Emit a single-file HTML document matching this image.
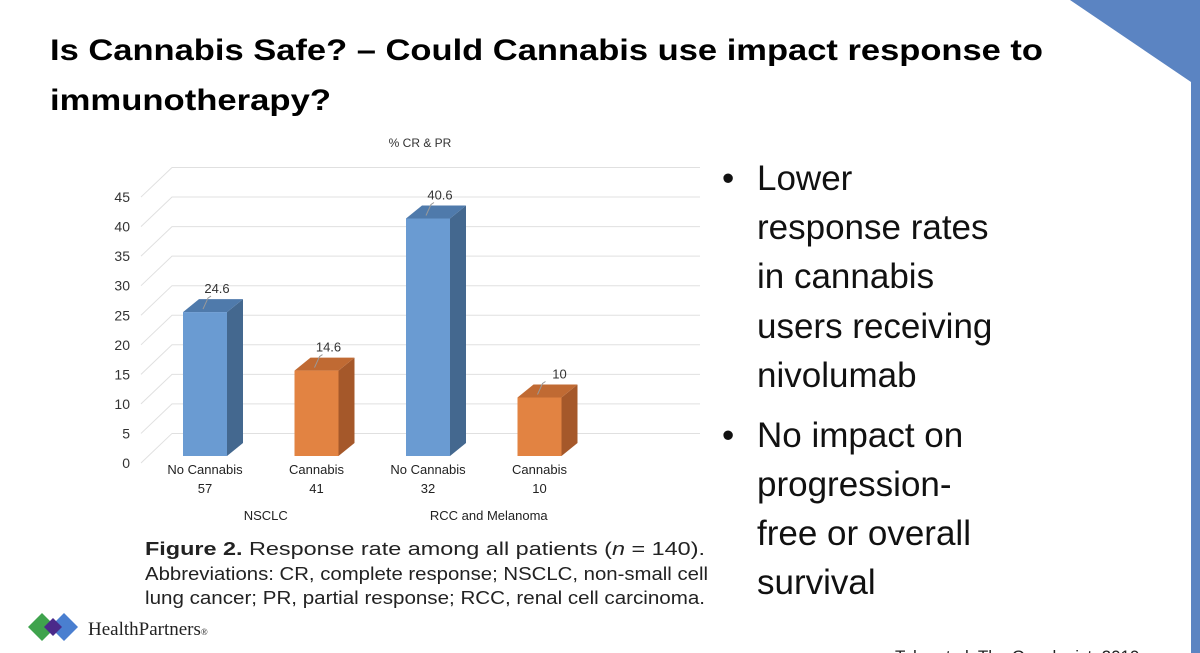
<!DOCTYPE html>
<html><head><meta charset="utf-8"><style>
html,body{margin:0;padding:0;background:#fff;}
svg{display:block;font-family:"Liberation Sans",sans-serif;}
</style></head><body>
<svg id="root" width="1200" height="653" viewBox="0 0 1200 653">
<polygon points="1070,0 1200,0 1200,653 1191,653 1191,82" fill="#5b84c2"/>
<text x="50" y="60" font-size="30" font-weight="bold" textLength="993" lengthAdjust="spacingAndGlyphs">Is Cannabis Safe? – Could Cannabis use impact response to</text>
<text x="50" y="110" font-size="30" font-weight="bold" textLength="281" lengthAdjust="spacingAndGlyphs">immunotherapy?</text>
<g id="chart"></g>
<g font-size="18" fill="#222">
<text x="145" y="555" textLength="560" lengthAdjust="spacingAndGlyphs"><tspan font-weight="bold">Figure 2.</tspan> Response rate among all patients (<tspan font-style="italic">n</tspan> = 140).</text>
<text x="145" y="580" textLength="563" lengthAdjust="spacingAndGlyphs">Abbreviations: CR, complete response; NSCLC, non-small cell</text>
<text x="145" y="604" textLength="560" lengthAdjust="spacingAndGlyphs">lung cancer; PR, partial response; RCC, renal cell carcinoma.</text>
</g>
<g font-size="35" fill="#111">
<text x="722" y="190">•</text>
<text x="757" y="190">Lower</text>
<text x="757" y="239">response rates</text>
<text x="757" y="288">in cannabis</text>
<text x="757" y="338">users receiving</text>
<text x="757" y="387">nivolumab</text>
<text x="722" y="447">•</text>
<text x="757" y="447">No impact on</text>
<text x="757" y="496">progression-</text>
<text x="757" y="545">free or overall</text>
<text x="757" y="594">survival</text>
</g>
<g>
<polygon points="28,627 42,613 56,627 42,641" fill="#3fa34d"/>
<polygon points="50,627 64,613 78,627 64,641" fill="#4a7fd0"/>
<polygon points="44,627 53,618 62,627 53,636" fill="#4b2a8a"/>
<text x="88" y="635" font-family="Liberation Serif,serif" font-size="19" fill="#222">HealthPartners<tspan font-size="9">®</tspan></text>
</g>
<text x="895" y="662" font-size="17" fill="#222">Taha et al. The Oncologist, 2019</text>
</svg>
<script>
const categories = ["No Cannabis","Cannabis","No Cannabis","Cannabis"];
const counts = ["57","41","32","10"];
const values = [24.6,14.6,40.6,10];
const valueLabels = ["24.6","14.6","40.6","10"];
const groups = ["NSCLC","RCC and Melanoma"];
const yTicks = [0,5,10,15,20,25,30,35,40,45];
const NS="http://www.w3.org/2000/svg";
const g=document.getElementById('chart');
const base=456, unit=5.85;
const y=v=>base-v*unit;
const ly=v=>463-v*5.91;
const x=i=>183+i*111.5;
const bw=44, dx=16, dy=13;
function mk(t,a,txt){const e=document.createElementNS(NS,t);for(const k in a)e.setAttribute(k,a[k]);if(txt!=null)e.textContent=txt;g.appendChild(e);return e;}
let e=mk('text',{x:420,y:147,'font-size':12,'text-anchor':'middle',fill:'#333'},'% CR & PR');


yTicks.forEach(t=>{
  const g0=ly(t), g1=ly(t+5);
  let l=mk('polyline',{points:`141,${g0} 172,${g1} 700,${g1}`,fill:'none',stroke:'#e0e0e0','stroke-width':1});
  
  
  let tx=mk('text',{x:130,y:g0+5,'font-size':14,'text-anchor':'end',fill:'#333'},String(t));
  
  
});
values.forEach((v,i)=>{
  const blue=i%2===0;
  const front=blue?'#6a9bd2':'#e28342', side=blue?'#44688f':'#a5582a', top=blue?'#4f7aab':'#c06a33';
  const x0=x(i), yt=y(v);
  let s=mk('polygon',{points:`${x0+bw},${yt} ${x0+bw+dx},${yt-dy} ${x0+bw+dx},${base-dy} ${x0+bw},${base}`,fill:side});
  
  
  let tp=mk('polygon',{points:`${x0},${yt} ${x0+dx},${yt-dy} ${x0+bw+dx},${yt-dy} ${x0+bw},${yt}`,fill:top});
  
  
  let r=mk('rect',{x:x0,y:yt,width:bw,height:base-yt,fill:front});
  
  
  const cx=x0+bw/2;
  let ln=mk('polyline',{points:`${cx-2},${yt-3} ${cx+3},${yt-14} ${cx+6},${yt-16}`,fill:'none',stroke:'#999','stroke-width':1});
  
  
  let vl=mk('text',{x:cx+(i===3?20:12),y:yt-19,'font-size':13,'text-anchor':'middle',fill:'#333'},valueLabels[i]);
  
  
  let c1=mk('text',{x:cx,y:474,'font-size':13,'text-anchor':'middle',fill:'#222'},categories[i]);
  
  
  let c2=mk('text',{x:cx,y:493,'font-size':13,'text-anchor':'middle',fill:'#222'},counts[i]);
  
  
});
groups.forEach((gname,j)=>{
  const cx=(x(2*j)+x(2*j+1)+bw)/2+5;
  let t=mk('text',{x:cx,y:520,'font-size':13,'text-anchor':'middle',fill:'#222'},gname);
  
  
});
</script>
</body></html>
